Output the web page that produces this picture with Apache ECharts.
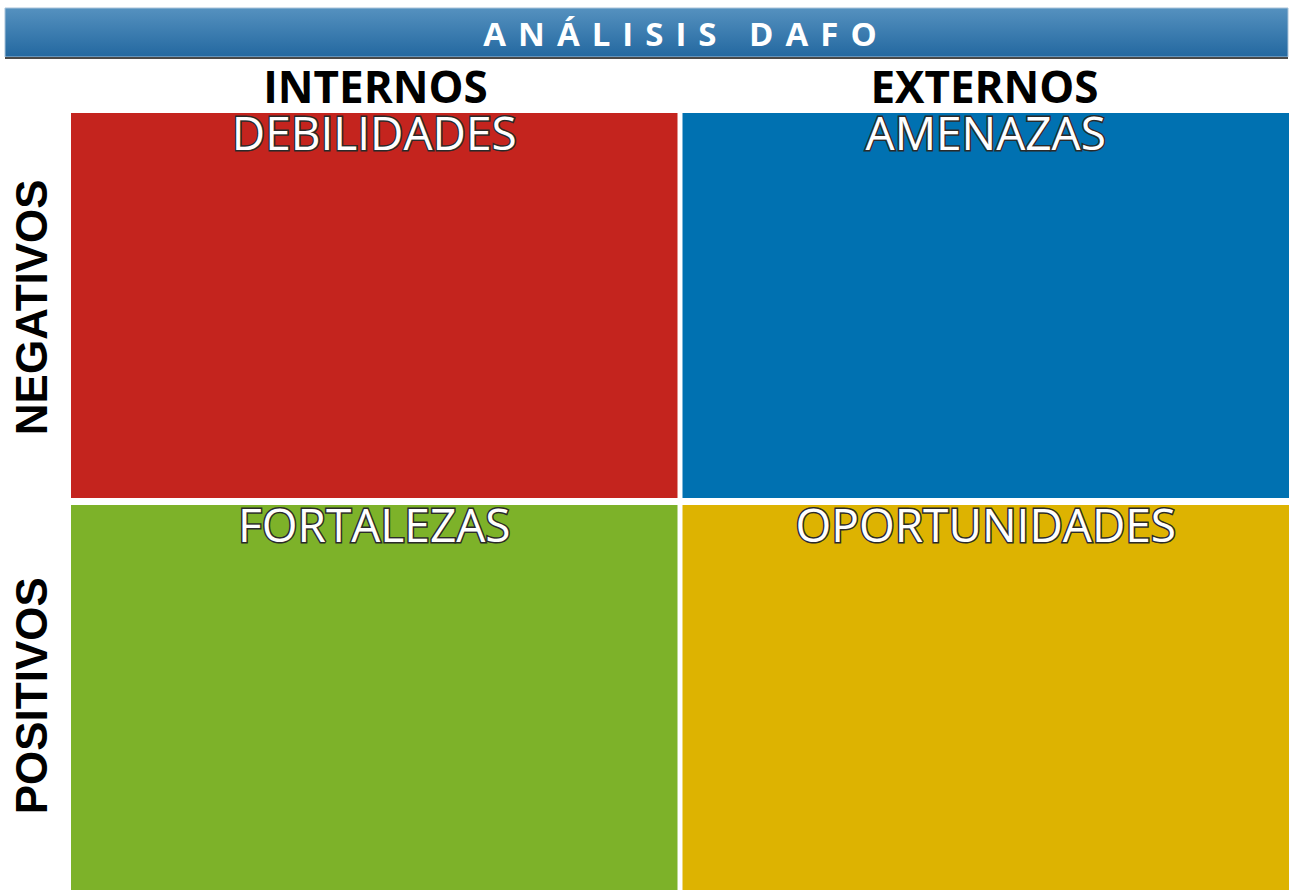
<!DOCTYPE html>
<html>
<head>
<meta charset="utf-8">
<script src="https://cdn.jsdelivr.net/npm/echarts@6/dist/echarts.min.js"></script>
<style>
html,body{margin:0;padding:0;background:#fff;}
#main{width:1289px;height:890px;}
</style>
</head>
<body>
<div id="main"></div>
<script>
// ---- data ----
const titleText = 'ANÁLISIS DAFO';
const columns = ['INTERNOS', 'EXTERNOS'];
const rows = ['NEGATIVOS', 'POSITIVOS'];
const quadrantNames = ['DEBILIDADES', 'AMENAZAS', 'FORTALEZAS', 'OPORTUNIDADES'];
const quadrantCol = [0, 1, 0, 1];
const quadrantRow = [0, 0, 1, 1];
const quadrantColors = ['#C4241E', '#0071B1', '#7DB229', '#DDB301'];

const data = quadrantNames.map((n, i) => ({
  name: n,
  value: [quadrantCol[i], quadrantRow[i]],
  itemStyle: { color: quadrantColors[i] }
}));

const chart = echarts.init(document.getElementById('main'), null, { renderer: 'svg' });

const hGap = 5, vGap = 7;

chart.setOption({
  animation: false,
  backgroundColor: '#fff',
  graphic: [{
    type: 'rect',
    shape: { x: 5, y: 8, width: 1283, height: 49 },
    style: {
      fill: new echarts.graphic.LinearGradient(0, 0, 0, 1, [
        { offset: 0, color: '#5591BF' },
        { offset: 1, color: '#2368A0' }
      ]),
      stroke: '#A9C3D9', lineWidth: 1
    },
    z: 1
  }, {
    type: 'rect',
    shape: { x: 5, y: 57, width: 1283, height: 2 },
    style: { fill: '#4A4A4A' },
    z: 1
  }, {
    type: 'text',
    id: 'titleText',
    style: {
      text: titleText,
      x: 686, y: 33,
      align: 'center', verticalAlign: 'middle',
      fill: '#fff',
      font: 'bold 33px "Open Sans", sans-serif'
    },
    z: 5
  }],
  grid: { left: 71, right: 0, top: 113, bottom: 0 },
  xAxis: {
    type: 'category',
    data: columns,
    position: 'top',
    axisLine: { show: false },
    axisTick: { show: false },
    splitLine: { show: false },
    axisLabel: {
      color: '#000',
      fontFamily: '"Open Sans", sans-serif',
      fontWeight: 'bold',
      fontSize: 44,
      lineHeight: 40,
      margin: 7
    }
  },
  yAxis: {
    type: 'category',
    data: rows,
    inverse: true,
    axisLine: { show: false },
    axisTick: { show: false },
    splitLine: { show: false },
    axisLabel: {
      rotate: 90,
      color: '#000',
      fontFamily: '"Liberation Sans", Arial, sans-serif',
      fontWeight: 'bold',
      fontSize: 44,
      lineHeight: 44,
      margin: 18
    }
  },
  series: [{
    type: 'custom',
    data: data,
    renderItem: function (params, api) {
      const ci = api.value(0), ri = api.value(1);
      const c = api.coord([ci, ri]);
      const s = api.size([1, 1]);
      let x0 = c[0] - s[0] / 2, x1 = c[0] + s[0] / 2;
      let y0 = c[1] - s[1] / 2, y1 = c[1] + s[1] / 2;
      if (ci === 0) x1 -= hGap / 2; else x0 += hGap / 2;
      if (ri === 0) y1 -= vGap / 2; else y0 += vGap / 2;
      const idx = params.dataIndex;
      return {
        type: 'group',
        children: [{
          type: 'rect',
          shape: { x: x0, y: y0, width: x1 - x0, height: y1 - y0 },
          style: { fill: quadrantColors[idx] }
        }, {
          type: 'text',
          style: {
            text: quadrantNames[idx],
            x: (x0 + x1) / 2, y: y0 - 1,
            align: 'center', verticalAlign: 'top',
            fill: '#fff',
            stroke: '#2a2a2a', lineWidth: 3,
            font: '500 46px "Open Sans", sans-serif',
            lineHeight: 40
          },
          z2: 10
        }]
      };
    }
  }]
});

function spaceTitle() {
  const texts = document.querySelectorAll('#main svg text');
  texts.forEach(t => {
    if (t.textContent === titleText) {
      t.setAttribute('letter-spacing', '12px');
    }
  });
}
spaceTitle();
chart.on('finished', spaceTitle);
setTimeout(spaceTitle, 50);
</script>
</body>
</html>
